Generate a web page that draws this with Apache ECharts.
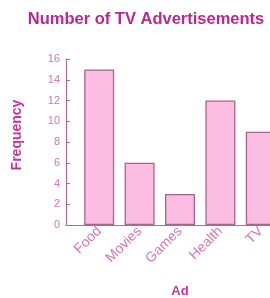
<!DOCTYPE html>
<html><head><meta charset="utf-8">
<script src="https://cdn.jsdelivr.net/npm/echarts@6/dist/echarts.min.js"></script>
<style>html,body{margin:0;padding:0;background:#fff}#c{width:270px;height:298px}</style>
</head><body><div id="c"></div>
<script>
var categories = ['Food', 'Movies', 'Games', 'Health', 'TV'];
var frequency = [15, 6, 3, 12, 9];
var yTicks = [0, 2, 4, 6, 8, 10, 12, 14, 16];

var chart = echarts.init(document.getElementById('c'), null, {renderer: 'canvas'});
var pinkText = '#d277b4';
var magenta = '#c4369b';
chart.setOption({
  animation: false,
  title: {
    text: 'Number of TV Advertisements',
    left: 141, top: 6, textAlign: 'center',
    textStyle: {fontFamily: 'Liberation Sans', fontWeight: 'bold', fontSize: 16.5, color: '#b8288e'}
  },
  grid: [
    {left: 79, width: 202, top: 59, height: 166, outerBoundsMode: 'none', containLabel: false},
    {left: 66, width: 13, top: 59, height: 166, outerBoundsMode: 'none', containLabel: false}
  ],
  xAxis: [{
    type: 'category', gridIndex: 0, data: categories,
    name: 'Ad', nameLocation: 'middle', nameGap: 60,
    nameTextStyle: {fontFamily: 'Liberation Sans', fontWeight: 'bold', fontSize: 13, color: magenta},
    axisLine: {lineStyle: {color: '#b06a95', width: 1.2}},
    axisTick: {show: false},
    axisLabel: {rotate: 45, margin: 4, color: pinkText, fontFamily: 'Liberation Sans', fontSize: 14}
  }, {
    type: 'category', gridIndex: 1, data: [''],
    axisLine: {lineStyle: {color: '#b06a95', width: 1.2}},
    axisTick: {show: false}, axisLabel: {show: false}
  }],
  yAxis: [{
    type: 'value', gridIndex: 0, min: 0, max: 16, interval: 2, offset: 13,
    name: 'Frequency', nameLocation: 'middle', nameGap: 42,
    nameTextStyle: {fontFamily: 'Liberation Sans', fontWeight: 'bold', fontSize: 14, color: magenta,
      padding: [0, 0, 0, 14]},
    axisLine: {show: true, lineStyle: {color: '#b06a95', width: 1.2}},
    axisTick: {show: true, inside: true, length: 4, lineStyle: {color: '#b06a95'}},
    splitLine: {show: false},
    axisLabel: {margin: 6, color: pinkText, fontFamily: 'Liberation Sans', fontSize: 11,
      formatter: function (v) { return yTicks.indexOf(v) >= 0 ? String(v) : ''; }}
  }, {
    type: 'value', gridIndex: 1, min: 0, max: 16, show: false
  }],
  series: [{
    type: 'bar', xAxisIndex: 0, yAxisIndex: 0, data: frequency,
    barWidth: 30,
    itemStyle: {color: '#fbbde2', borderColor: '#a8648c', borderWidth: 1.3}
  }]
});
</script></body></html>
